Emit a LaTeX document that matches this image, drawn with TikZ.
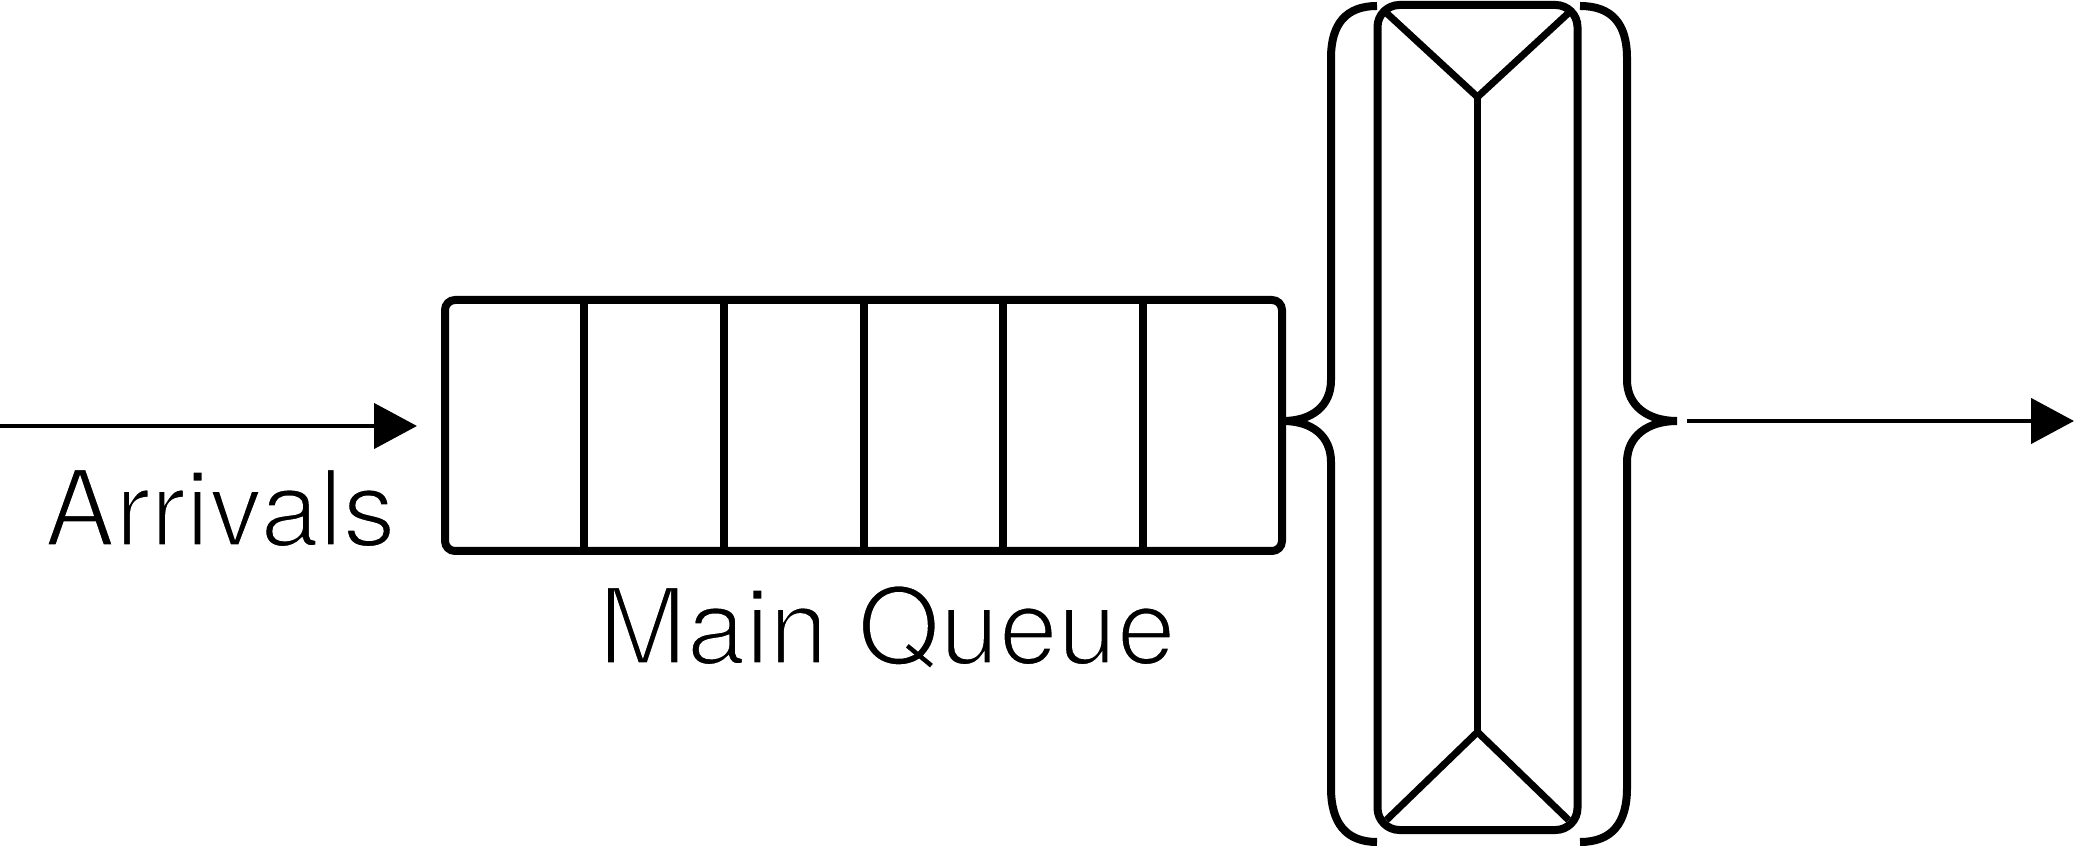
\documentclass[tikz,border=0pt]{standalone}
\usepackage{fontspec}
\setmainfont{TeX Gyre Heros}
\usetikzlibrary{arrows.meta,calc}
\newcommand{\thintext}{\special{pdf:literal direct 2 Tr 1 G 3 w}}
\begin{document}
\begin{tikzpicture}[x=1pt,y=1pt,
  box/.style={draw=black, line width=8pt, outer sep=0pt, inner sep=0pt},
  thick line/.style={draw=black, line width=7pt, line join=round},
  bracestyle/.style={draw=black, line width=8pt},
  flow/.style={draw=black, line width=4.5pt, -{Triangle[length=43pt,width=45pt]}},
  lbl/.style={font=\fontsize{106}{120}\selectfont, inner sep=0pt, anchor=base}]
\fill[white] (0,0) rectangle (2080,849);
\useasboundingbox (0,0) rectangle (2080,849);
% main queue
\node[box, rounded corners=10pt, minimum width=837pt, minimum height=251pt] (q) at (863.5,423.5) {};
\foreach \k in {1,...,5}
  \draw[thick line, line width=8pt] ($(q.north west)!\k/6!(q.north east)$) -- ($(q.south west)!\k/6!(q.south east)$);
% server
\node[box, rounded corners=22pt, minimum width=200pt, minimum height=825pt] (s) at (1477.5,431.5) {};
\coordinate (st) at (1477.5,752);
\coordinate (sb) at (1477.5,117);
\draw[thick line] ($(s.north west)+(9,-8)$) -- (st) -- ($(s.north east)+(-9,-8)$);
\draw[thick line] (st) -- (sb);
\draw[thick line] ($(s.south west)+(9,10)$) -- (sb) -- ($(s.south east)+(-9,10)$);
% braces
\coordinate (lt) at (1283,428);
\coordinate (rt) at (1677,428);
\draw[bracestyle] (1377,843) .. controls (1346,843) and (1331,825) .. (1331,791) -- (1331,469)
  .. controls (1331,443) and (1312,428) .. (lt)
  .. controls (1312,428) and (1331,413) .. (1331,387) -- (1331,61)
  .. controls (1331,26) and (1346,7) .. (1377,7);
\draw[bracestyle] (1580,843) .. controls (1612,843) and (1627,825) .. (1627,791) -- (1627,469)
  .. controls (1627,443) and (1648,428) .. (rt)
  .. controls (1648,428) and (1627,413) .. (1627,387) -- (1627,61)
  .. controls (1627,26) and (1612,7) .. (1580,7);
% arrows
\coordinate (a0) at (0,423);
\coordinate (out) at (2074,428);
\draw[flow] (a0) -- ($(q.west)+(-28,-0.5)$);
\draw[flow] ($(rt)+(10,0)$) -- (out);
% labels
\node[lbl] (arr) at (220,303) {\thintext Arrivals};
\node[lbl] (mq) at (887,185) {\thintext Main Queue};
\end{tikzpicture}
\end{document}
